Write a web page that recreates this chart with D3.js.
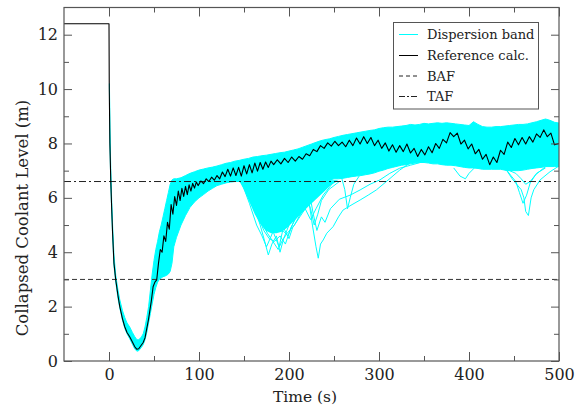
<!DOCTYPE html>
<html><head><meta charset="utf-8">
<script src="https://cdn.jsdelivr.net/npm/d3@7"></script>
<style>body{margin:0;background:#fff}svg{display:block}</style>
</head><body><svg id="c" width="583" height="414"></svg>
<script>
// ---------------- data ----------------
const xMajorTicks = [0, 100, 200, 300, 400, 500];
const xMinorTicks = [50, 150, 250, 350, 450];
const yMajorTicks = [0, 2, 4, 6, 8, 10, 12];
const yMinorTicks = [1, 3, 5, 7, 9, 11];
const legendLabels = ["Dispersion band", "Reference calc.", "BAF", "TAF"];
const BAF = 3.0, TAF = 6.6;

// reference calculation [time, level]
const refLine = [
 [-50,12.4],[0,12.4],[0.3,10.0],[1,8.0],[2,6.6],[3,5.6],[4,4.7],[5.5,3.6],[7.5,2.98],[10,2.4],[12,2.0],[15,1.55],
 [17.5,1.26],[20,1.05],[23,0.89],[26,0.7],[28.5,0.53],[31,0.43],[33,0.45],[36,0.59],[38,0.68],[40,0.85],[42,1.2],
 [44,1.55],[45.5,1.88],[47,2.2],[49,2.73],[51,2.9],[53,2.98],
 [55,3.6],[57,4.1],[59,4.0],[61,4.6],[63,4.4],[65,5.1],[67,4.85],[69,5.75],[71,5.4],[73,6.05],[75,5.72],[77,6.25],
 [79,5.9],[81,6.35],[83,6.05],[85,6.42],[87,6.12],[89,6.48],[91,6.25],[93,6.53],[95,6.36],[97,6.58],[99,6.45],
 [102,6.62],[105,6.52],[108,6.7],[111,6.6],[114,6.76],[117,6.65],[120,6.82],[123,6.7],[126,6.95],[129,6.78],
 [132,7.05],[135,6.8],[138,7.1],[141,6.82],[144,7.12],[147,6.8],[150,7.18],[153,6.88],[156,7.22],[159,6.92],
 [162,7.28],[165,6.98],[168,7.3],[171,7.05],[174,7.32],[177,7.12],[180,7.35],
 [183,7.22],[187,7.4],[191,7.25],[195,7.45],[199,7.3],[203,7.5],[207,7.35],[211,7.52],[215,7.42],[219,7.62],
 [223,7.55],[227,7.78],[231,7.7],[235,7.92],[239,7.82],[243,8.02],[247,7.9],[251,8.08],[255,7.92],[259,8.05],
 [263,7.88],[267,8.12],[271,7.92],[275,8.2],[279,7.98],[283,8.25],[287,8.0],[291,8.22],[295,7.92],[299,8.12],
 [303,7.82],[307,8.02],[311,7.72],[315,7.95],[319,7.68],[323,7.92],[327,7.7],[331,7.98],[335,7.65],[339,7.82],
 [343,7.52],[347,7.78],[351,7.58],[355,7.88],[359,7.66],[363,8.0],[367,7.82],[371,8.15],[375,8.02],[379,8.4],
 [383,8.25],[387,8.38],[391,7.98],[395,8.12],[399,7.8],[403,7.98],[407,7.62],[411,7.78],[415,7.42],[419,7.6],
 [423,7.22],[427,7.5],[431,7.3],[435,7.75],[439,7.6],[443,8.05],[447,7.85],[451,8.18],[455,7.95],[459,8.22],
 [463,7.98],[467,8.25],[471,8.05],[475,8.35],[479,8.22],[483,8.5],[487,8.25],[491,8.38],[495,7.95],[500,8.0]
];

// dispersion band envelope [time, lower, upper]
const band = [
 [0.5,10.0,10.2],[1,8.0,8.6],[2,6.5,7.0],[3,5.5,5.9],[4,4.6,5.0],[5.5,3.5,3.9],[7.5,2.9,3.15],[10,2.3,2.6],
 [12,1.95,2.25],[15,1.5,1.85],[17.5,1.2,1.6],[20,1.0,1.4],[23,0.82,1.25],[26,0.62,1.05],[28.5,0.45,0.9],
 [31,0.36,0.78],[33,0.38,0.78],[36,0.5,0.88],[38,0.6,1.0],[40,0.78,1.25],[42,1.05,1.6],[44,1.4,2.0],
 [46,1.75,2.6],[48,2.1,3.2],[50,2.45,3.7],[52,2.7,4.1],[54,2.9,4.4],[56,3.0,4.75],[58,3.05,5.0],[60,3.1,5.3],
 [62,3.12,5.6],[64,3.15,5.9],[66,3.2,6.2],[68,3.3,6.5],[70,3.6,6.66],[72,4.2,6.7],[75,4.55,6.7],[80,5.0,6.74],
 [85,5.35,6.82],[90,5.65,6.9],[95,5.85,6.96],[100,6.0,7.02],
 [105,6.12,7.06],[110,6.25,7.1],[115,6.35,7.13],[120,6.45,7.17],[125,6.5,7.22],[130,6.55,7.27],[135,6.58,7.3],
 [140,6.6,7.35],[145,6.6,7.38],[150,6.55,7.42],[155,6.55,7.45],[160,6.5,7.5],[165,6.5,7.52],[170,6.5,7.55],
 [175,6.5,7.57],[180,6.5,7.6],[185,6.5,7.63],[190,6.5,7.66],[195,6.5,7.68],[200,6.5,7.72],[205,6.5,7.76],
 [210,6.55,7.8],[215,6.6,7.86],[220,6.6,7.92],[225,6.62,7.98],[230,6.65,8.04],[235,6.65,8.1],[240,6.65,8.14],
 [245,6.65,8.17],[250,6.7,8.22],[255,6.7,8.26],[260,6.72,8.3],[265,6.75,8.33],[270,6.78,8.36],[275,6.8,8.39],
 [280,6.82,8.42],[285,6.85,8.45],[290,6.88,8.48],[295,6.92,8.5],[300,6.98,8.55],[305,7.02,8.58],[310,7.08,8.6],
 [315,7.12,8.6],[320,7.16,8.62],[325,7.2,8.64],[330,7.22,8.66],[335,7.25,8.7],[340,7.28,8.68],[345,7.3,8.7],
 [350,7.3,8.74],[355,7.28,8.72],[360,7.25,8.74],[365,7.25,8.76],[370,7.22,8.74],[375,7.2,8.76],[380,7.2,8.74],
 [385,7.18,8.72],[390,7.15,8.7],[395,7.12,8.68],[400,7.1,8.66],[405,7.1,8.8],[410,7.08,8.7],[415,7.05,8.62],
 [420,7.05,8.6],[425,7.05,8.6],[430,7.05,8.62],[435,7.05,8.62],[440,7.02,8.64],[445,7.0,8.66],[450,7.0,8.68],
 [455,7.0,8.7],[460,7.02,8.7],[465,7.05,8.72],[470,7.08,8.76],[475,7.1,8.8],[480,7.12,8.85],[485,7.15,8.9],
 [490,7.15,8.85],[495,7.15,8.78],[500,7.15,8.75]
];

// dense part of the dip between 145 s and 255 s [time, lower, upper]
const dipCloud = [
 [145,6.6,6.65],[150,6.3,6.65],[156,5.85,6.65],[162,5.4,6.65],[168,5.05,6.65],[174,4.8,6.65],[180,4.7,6.65],
 [186,4.7,6.65],[192,4.75,6.65],[198,4.9,6.65],[204,5.1,6.65],[210,5.3,6.65],[216,5.5,6.65],[222,5.7,6.65],
 [230,5.95,6.65],[238,6.2,6.65],[246,6.45,6.65],[254,6.62,6.65]
];

// individual dispersion runs that leave the band [time, level]
const dip1 = [[146,6.7],[155,6.2],[162,5.6],[168,5.0],[173,4.4],[177,3.9],[181,4.3],[186,4.6],[190,4.0],[194,4.5],[200,5.0],[208,5.5],[218,6.0],[230,6.4],[245,6.7]];
const dip2 = [[148,6.7],[158,6.0],[166,5.3],[172,4.8],[178,4.5],[184,4.4],[190,4.6],[196,4.3],[202,4.9],[210,5.4],[220,5.9],[235,6.5],[250,6.8]];
const dip3 = [[150,6.7],[160,6.1],[170,5.5],[180,5.0],[188,4.8],[195,5.1],[205,5.6],[215,6.0],[228,6.5],[240,6.8]];
const dip4 = [[152,6.7],[162,6.3],[172,5.9],[180,5.6],[190,5.4],[200,5.7],[210,6.1],[222,6.5],[235,6.8]];
const dip5 = [[155,6.7],[165,6.4],[175,6.1],[185,5.9],[195,6.0],[205,6.3],[215,6.6]];
const dip6 = [[150,6.6],[163,5.8],[174,5.1],[183,4.7],[189,4.2],[193,4.8],[199,4.6],[206,5.2],[214,5.7],[224,6.2],[238,6.6]];
const dip7 = [[205,6.8],[215,6.4],[222,5.9],[226,5.0],[230,4.2],[232.5,3.78],[235,4.3],[238,4.45],[242,4.7],[249,4.94],[255,5.3],[260,5.55],[270,5.75],[279,5.92],[288,6.1],[297,6.29],[310,6.65],[323,7.02],[335,7.3]];
const dip8 = [[215,6.8],[222,6.3],[227,5.4],[231,4.8],[236,5.3],[240,5.1],[246,5.6],[256,5.95],[268,6.1],[279,6.29],[290,6.5],[301,6.66],[312,6.9],[323,7.09],[335,7.2],[346,7.3]];
const dip9 = [[258,6.8],[262,6.3],[265,5.6],[268,6.0],[272,6.5],[278,6.8]];
const dip10 = [[200,6.8],[210,6.3],[218,5.6],[224,5.2],[230,5.6],[238,6.1],[250,6.6]];
const dip11 = [[435,7.1],[442,7.0],[448,6.7],[453,6.5],[458,6.3],[461,6.0],[463,5.5],[466,5.35],[469,6.0],[472,6.3],[479,6.66],[490,6.96],[499,7.15]];
const dip12 = [[440,7.1],[447,6.8],[452,6.6],[456,6.2],[460,5.8],[464,6.1],[468,6.55],[475,6.9],[485,7.1]];
const dip13 = [[445,7.0],[452,6.9],[458,6.7],[463,6.5],[468,6.6],[474,6.85],[485,7.15],[497,7.4]];
const dip14 = [[383,7.1],[390,6.8],[396,6.7],[400,6.9],[406,7.1]];
const dip15 = [[147,6.6],[156,5.8],[164,5.0],[170,4.6],[175,4.2],[179,4.5],[184,4.9],[192,5.3],[202,5.8],[214,6.3],[228,6.6]];
const dip16 = [[150,6.6],[160,5.7],[168,5.2],[176,4.7],[184,4.3],[188,4.1],[192,4.4],[198,4.7],[206,5.0],[216,5.6],[228,6.1],[242,6.6]];
const dip17 = [[155,6.6],[166,5.9],[176,5.5],[186,5.2],[194,4.9],[200,4.5],[204,4.9],[212,5.3],[222,5.8],[236,6.4],[248,6.7]];
const dip18 = [[160,6.6],[170,6.0],[180,5.6],[190,5.6],[200,5.9],[210,6.2],[222,6.6]];
const dip19 = [[210,6.7],[218,6.1],[224,5.6],[228,5.0],[232,5.4],[236,5.9],[244,6.3],[256,6.6]];
const dip20 = [[168,6.4],[175,5.8],[181,5.4],[186,4.9],[191,5.2],[197,5.0],[203,5.4],[211,5.9],[220,6.3]];
const dipLines = [dip1, dip2, dip3, dip4, dip5, dip6, dip7, dip8, dip9, dip10,
                  dip11, dip12, dip13, dip14, dip15, dip16, dip17, dip18, dip19, dip20];

// ---------------- drawing ----------------
const svg = d3.select("#c");
const FONT = "'DejaVu Serif', serif";
const L = 64, R = 559, T = 7.5, B = 361;
const x = d3.scaleLinear().domain([-50, 500]).range([L, R]);
const y = d3.scaleLinear().domain([0, 13]).range([B, T]);
const CYAN = "#00ffff", FRAME = "#555";

svg.append("rect").attr("width", 583).attr("height", 414).attr("fill", "#fff");

const clip = svg.append("defs").append("clipPath").attr("id", "pc");
clip.append("rect").attr("x", L).attr("y", T).attr("width", R - L).attr("height", B - T);
const plot = svg.append("g").attr("clip-path", "url(#pc)");

const area = d3.area().x(d => x(d[0])).y0(d => y(d[1])).y1(d => y(d[2]));
plot.append("path").datum(band).attr("d", area)
  .attr("fill", CYAN).attr("stroke", CYAN).attr("stroke-width", 1);
plot.append("path").datum(dipCloud).attr("d", area)
  .attr("fill", CYAN).attr("stroke", "none");

const line = d3.line().x(d => x(d[0])).y(d => y(d[1]));
plot.selectAll(".dip").data(dipLines).enter().append("path")
  .attr("d", line).attr("fill", "none").attr("stroke", CYAN).attr("stroke-width", 1);

// BAF / TAF
plot.append("line").attr("x1", L).attr("x2", R).attr("y1", y(BAF)).attr("y2", y(BAF))
  .attr("stroke", "#333").attr("stroke-width", 1).attr("stroke-dasharray", "5,3");
plot.append("line").attr("x1", L).attr("x2", R).attr("y1", y(TAF)).attr("y2", y(TAF))
  .attr("stroke", "#222").attr("stroke-width", 1).attr("stroke-dasharray", "7,3,2,3");

// reference
plot.append("path").datum(refLine).attr("d", line)
  .attr("fill", "none").attr("stroke", "#000").attr("stroke-width", 1.1).attr("stroke-linejoin", "round");

// axes (inward ticks)
function styleAxis(g) {
  g.select(".domain").remove();
  g.selectAll(".tick line").attr("stroke", FRAME);
  g.selectAll("text").attr("font-family", FONT).attr("font-size", 16).attr("fill", "#222");
}
svg.append("g").attr("transform", `translate(0,${B})`)
  .call(d3.axisBottom(x).tickValues(xMajorTicks).tickSize(-9).tickPadding(8).tickFormat(d3.format("d"))).call(styleAxis);
svg.append("g").attr("transform", `translate(0,${B})`)
  .call(d3.axisBottom(x).tickValues(xMinorTicks).tickSize(-5).tickFormat("")).call(styleAxis);
svg.append("g").attr("transform", `translate(0,${T})`)
  .call(d3.axisTop(x).tickValues(xMajorTicks).tickSize(-9).tickFormat("")).call(styleAxis);
svg.append("g").attr("transform", `translate(0,${T})`)
  .call(d3.axisTop(x).tickValues(xMinorTicks).tickSize(-5).tickFormat("")).call(styleAxis);
svg.append("g").attr("transform", `translate(${L},0)`)
  .call(d3.axisLeft(y).tickValues(yMajorTicks).tickSize(-8).tickPadding(6).tickFormat(d3.format("d"))).call(styleAxis);
svg.append("g").attr("transform", `translate(${L},0)`)
  .call(d3.axisLeft(y).tickValues(yMinorTicks).tickSize(-5).tickFormat("")).call(styleAxis);
svg.append("g").attr("transform", `translate(${R},0)`)
  .call(d3.axisRight(y).tickValues(yMajorTicks).tickSize(-8).tickFormat("")).call(styleAxis);
svg.append("g").attr("transform", `translate(${R},0)`)
  .call(d3.axisRight(y).tickValues(yMinorTicks).tickSize(-5).tickFormat("")).call(styleAxis);

svg.append("rect").attr("x", L).attr("y", T).attr("width", R - L).attr("height", B - T)
  .attr("fill", "none").attr("stroke", FRAME).attr("stroke-width", 1.2);

// axis titles
svg.append("text").attr("x", 305).attr("y", 402).attr("text-anchor", "middle")
  .attr("font-family", FONT).attr("font-size", 15.5).attr("fill", "#222").text("Time (s)");
svg.append("text").attr("transform", "translate(28,218) rotate(-90)").attr("text-anchor", "middle")
  .attr("font-family", FONT).attr("font-size", 16.5).attr("fill", "#222").text("Collapsed Coolant Level (m)");

// legend
const lg = svg.append("g");
lg.append("rect").attr("x", 393.5).attr("y", 22.5).attr("width", 145).attr("height", 86.5)
  .attr("fill", "#fff").attr("stroke", FRAME).attr("stroke-width", 1);
const legendStyles = [
  {stroke: CYAN, dash: null},
  {stroke: "#000", dash: null},
  {stroke: "#222", dash: "4,3"},
  {stroke: "#222", dash: "6,2,2,2"}
];
const rowsY = [34.5, 55.5, 76, 96.5];
legendLabels.forEach((lab, i) => {
  const ly = rowsY[i];
  lg.append("line").attr("x1", 399).attr("x2", 418).attr("y1", ly).attr("y2", ly)
    .attr("stroke", legendStyles[i].stroke).attr("stroke-width", 1)
    .attr("stroke-dasharray", legendStyles[i].dash);
  lg.append("text").attr("x", 427).attr("y", ly).attr("dy", "0.35em")
    .attr("font-family", FONT).attr("font-size", 13).attr("fill", "#222").text(lab);
});
</script></body></html>
